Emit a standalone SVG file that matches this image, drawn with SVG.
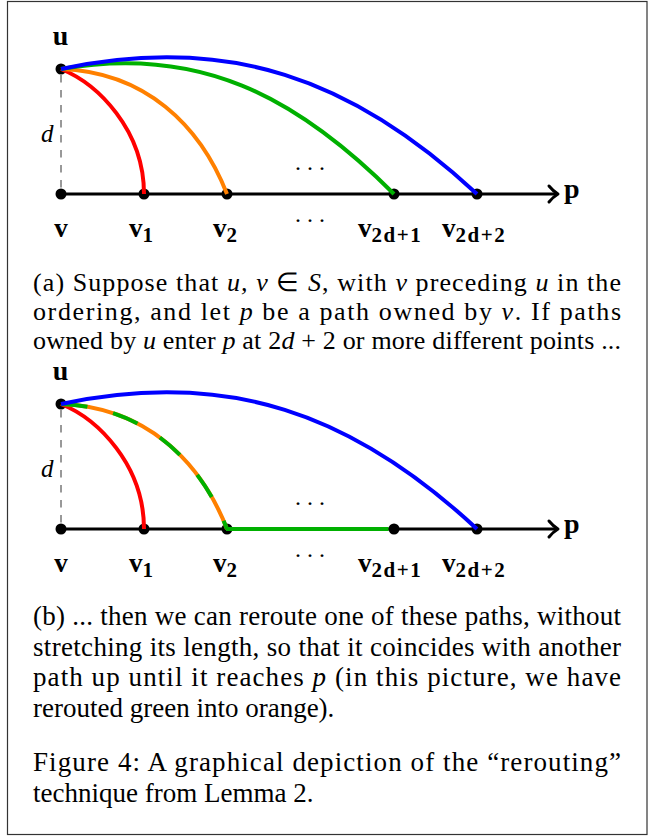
<svg xmlns="http://www.w3.org/2000/svg" width="653" height="837" viewBox="0 0 653 837">
<style>
.lbl{font-family:"Liberation Serif","Times New Roman",serif;font-weight:bold;fill:#000}
.sub{font-size:21px;letter-spacing:1.5px}
.cap{font-family:"Liberation Serif","Times New Roman",serif;font-size:27px;fill:#000}
.capa{font-family:"Liberation Serif","Times New Roman",serif;font-size:26px;fill:#000}
.it{font-style:italic}
.mi{font-family:"Liberation Serif","Times New Roman",serif;font-style:italic;font-size:25px;fill:#000}
.dots{font-family:"Liberation Serif","Times New Roman",serif;font-size:24px;letter-spacing:6px;fill:#000}
.node{fill:#000}
.axis{stroke:#000;stroke-width:3;fill:none}
.tip{stroke:#000;stroke-width:3;fill:none;stroke-linecap:round;stroke-linejoin:round}
.dash{stroke:#333;stroke-width:1;stroke-dasharray:7.5 7.5;fill:none}
.cv{fill:none;stroke-width:4}
.red{stroke:#ff0000}
.orange{stroke:#ff8000}
.green{stroke:#00b000}
.blue{stroke:#0000ff}
</style>
<rect x="7.5" y="1.5" width="639.5" height="833" fill="#fff" stroke="#333" stroke-width="1.2"/>

<!-- Panel (a) -->
<g id="panel-a">
  <g id="a-connectors">
    <line class="dash" x1="61" y1="75" x2="61" y2="188"/>
    <line class="axis" x1="61" y1="194" x2="557" y2="194"/>
    <path class="tip" d="M549,186 Q553,191 558,194 Q553,197 549,202"/>
  </g>
  <g id="a-u"><circle class="node" cx="61" cy="69" r="5.5"/><text class="lbl" x="60.5" y="45" font-size="28" text-anchor="middle">u</text></g>
  <g id="a-v"><circle class="node" cx="61" cy="194" r="5.5"/><text class="lbl" x="61" y="237" font-size="27" text-anchor="middle">v</text></g>
  <g id="a-v1"><circle class="node" cx="144" cy="194" r="5.5"/><text class="lbl" x="129" y="237" font-size="27">v<tspan class="sub" dy="4.5">1</tspan></text></g>
  <g id="a-v2"><circle class="node" cx="227" cy="194" r="5.5"/><text class="lbl" x="213" y="237" font-size="27">v<tspan class="sub" dy="4.5">2</tspan></text></g>
  <g id="a-v2d1"><circle class="node" cx="394" cy="194" r="5.5"/><text class="lbl" x="358" y="237" font-size="27">v<tspan class="sub" dy="4.5">2d+1</tspan></text></g>
  <g id="a-v2d2"><circle class="node" cx="477" cy="194" r="5.5"/><text class="lbl" x="442" y="237" font-size="27">v<tspan class="sub" dy="4.5">2d+2</tspan></text></g>
  <text class="lbl" x="564" y="198" font-size="28">p</text>
  <text class="mi" x="41" y="142">d</text>
  <text class="dots" x="295" y="169.5">...</text>
  <text class="dots" x="295" y="221.5">...</text>
  <g id="a-paths">
    <path class="cv red" d="M61,69 C98,84 144,130 144,194"/>
    <path class="cv orange" d="M61,69 C145,72 200,125 227,194"/>
    <path class="cv green" d="M61,69 C197.9,44.9 295.7,95.7 394,194"/>
    <path class="cv blue" d="M61,69 C227.3,33.7 352.7,78.1 477,194"/>
  </g>
</g>

<text class="capa" x="33" y="291" textLength="588" lengthAdjust="spacing">(a) Suppose that <tspan class="it">u, v</tspan> ∈ <tspan class="it">S</tspan>, with <tspan class="it">v</tspan> preceding <tspan class="it">u</tspan> in the</text>
<text class="capa" x="33" y="320" textLength="588" lengthAdjust="spacing">ordering, and let <tspan class="it">p</tspan> be a path owned by <tspan class="it">v</tspan>.  If paths</text>
<text class="capa" x="33" y="349" textLength="588" lengthAdjust="spacing">owned by <tspan class="it">u</tspan> enter <tspan class="it">p</tspan> at 2<tspan class="it">d</tspan> + 2 or more different points ...</text>

<!-- Panel (b) -->
<g id="panel-b" transform="translate(0,335)">
  <g id="b-connectors">
    <line class="dash" x1="61" y1="75" x2="61" y2="188"/>
    <line class="axis" x1="61" y1="194" x2="557" y2="194"/>
    <path class="tip" d="M549,186 Q553,191 558,194 Q553,197 549,202"/>
  </g>
  <g id="b-u"><circle class="node" cx="61" cy="69" r="5.5"/><text class="lbl" x="60.5" y="45" font-size="28" text-anchor="middle">u</text></g>
  <g id="b-v"><circle class="node" cx="61" cy="194" r="5.5"/><text class="lbl" x="61" y="237" font-size="27" text-anchor="middle">v</text></g>
  <g id="b-v1"><circle class="node" cx="144" cy="194" r="5.5"/><text class="lbl" x="129" y="237" font-size="27">v<tspan class="sub" dy="4.5">1</tspan></text></g>
  <g id="b-v2"><circle class="node" cx="227" cy="194" r="5.5"/><text class="lbl" x="213" y="237" font-size="27">v<tspan class="sub" dy="4.5">2</tspan></text></g>
  <g id="b-v2d1"><circle class="node" cx="394" cy="194" r="5.5"/><text class="lbl" x="358" y="237" font-size="27">v<tspan class="sub" dy="4.5">2d+1</tspan></text></g>
  <g id="b-v2d2"><circle class="node" cx="477" cy="194" r="5.5"/><text class="lbl" x="442" y="237" font-size="27">v<tspan class="sub" dy="4.5">2d+2</tspan></text></g>
  <text class="lbl" x="564" y="198" font-size="28">p</text>
  <text class="mi" x="41" y="142">d</text>
  <text class="dots" x="295" y="169.5">...</text>
  <text class="dots" x="295" y="221.5">...</text>
  <g id="b-paths">
    <path class="cv red" d="M61,69 C98,84 144,130 144,194"/>
    <path class="cv orange" d="M61,69 C145,72 200,125 227,194"/>
    <path class="cv green" stroke-dasharray="26.5 26.5" d="M61,69 C145,72 200,125 227,194"/>
    <line class="cv green" x1="226" y1="194" x2="388.5" y2="194"/>
    <path class="cv blue" d="M61,69 C227.3,33.7 352.7,78.1 477,194"/>
  </g>
</g>

<text class="cap" x="33" y="625" textLength="588" lengthAdjust="spacing">(b) ... then we can reroute one of these paths, without</text>
<text class="cap" x="33" y="655.5" textLength="588" lengthAdjust="spacing">stretching its length, so that it coincides with another</text>
<text class="cap" x="33" y="686" textLength="588" lengthAdjust="spacing">path up until it reaches <tspan class="it">p</tspan> (in this picture, we have</text>
<text class="cap" x="33" y="716.5">rerouted green into orange).</text>

<text class="cap" x="33" y="771" textLength="588" lengthAdjust="spacing">Figure 4: A graphical depiction of the “rerouting”</text>
<text class="cap" x="33" y="802">technique from Lemma 2.</text>
</svg>
